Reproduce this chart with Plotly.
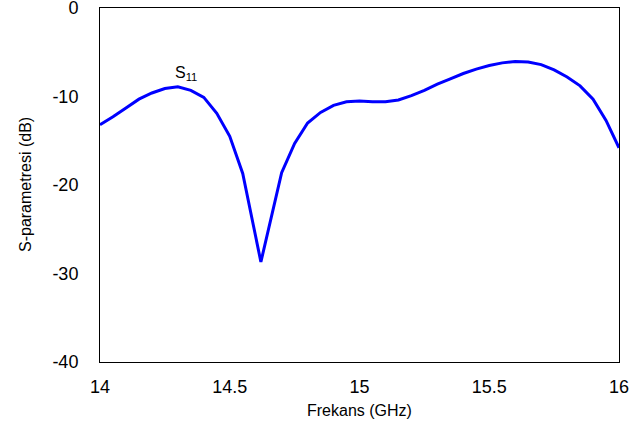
import plotly.graph_objects as go

freq = [14.0, 14.05, 14.1, 14.15, 14.2, 14.25, 14.3, 14.35, 14.4, 14.45, 14.5, 14.55, 14.62,
        14.7, 14.75, 14.8, 14.85, 14.9, 14.95, 15.0, 15.05, 15.1, 15.15, 15.2, 15.25, 15.3,
        15.35, 15.4, 15.45, 15.5, 15.55, 15.6, 15.65, 15.7, 15.75, 15.8, 15.85, 15.9, 15.95, 16.0]
s11 = [-13.2, -12.3, -11.3, -10.3, -9.6, -9.1, -8.9, -9.3, -10.1, -11.9, -14.5, -18.7, -28.7,
       -18.6, -15.3, -13.0, -11.8, -11.0, -10.6, -10.5, -10.6, -10.6, -10.4, -9.9, -9.3, -8.6,
       -8.0, -7.4, -6.9, -6.5, -6.2, -6.05, -6.1, -6.4, -7.0, -7.8, -8.8, -10.3, -12.7, -15.8]
x_ticks = [14, 14.5, 15, 15.5, 16]
y_ticks = [0, -10, -20, -30, -40]

fig = go.Figure()
fig.add_trace(go.Scatter(x=freq, y=s11, mode="lines",
                         line=dict(color="#0000ff", width=3), showlegend=False))
fig.add_annotation(x=14.33, y=-7.4, text="S<sub>11</sub>", showarrow=False,
                   font=dict(size=16, color="black"))
fig.add_annotation(xref="paper", yref="paper", x=0.5, y=0, yanchor="middle",
                   yshift=-48, text="Frekans (GHz)", showarrow=False,
                   font=dict(size=16, color="black"))
fig.add_annotation(xref="paper", yref="paper", x=0, y=0.5, xanchor="center",
                   xshift=-75, textangle=-90, text="S-parametresi (dB)", showarrow=False,
                   font=dict(size=16, color="black"))

fig.update_layout(
    width=631, height=429,
    margin=dict(l=100, r=12, t=8, b=67),
    paper_bgcolor="white", plot_bgcolor="white",
    font=dict(family="Liberation Sans, Arial, sans-serif", size=18, color="black"),
    xaxis=dict(range=[14, 16], tickvals=x_ticks, ticktext=[str(v) for v in x_ticks],
               showgrid=False, zeroline=False, showline=True, linecolor="black",
               linewidth=1, mirror=True, ticks="", ticklabelstandoff=8,
               ticklabeloverflow="allow", automargin=False, tickfont=dict(size=18)),
    yaxis=dict(range=[-40, 0], tickvals=y_ticks, ticktext=[str(v) for v in y_ticks],
               showgrid=False, zeroline=False, showline=True, linecolor="black",
               linewidth=1, mirror=True, ticks="", ticklabelstandoff=17,
               ticklabeloverflow="allow", automargin=False, tickfont=dict(size=18)),
)
fig.write_html("out.html", config={"displayModeBar": False},
               post_script="document.body.style.margin='0';")
